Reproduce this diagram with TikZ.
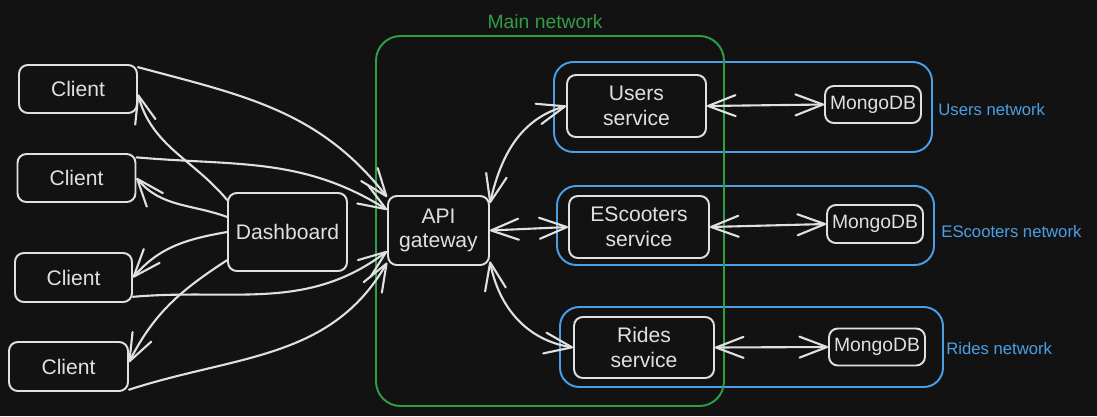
\documentclass[tikz,border=0pt]{standalone}
\usepackage{fontspec}
\setmainfont{Liberation Sans}
\usepackage{xcolor}
\usepackage{tikz}
\usetikzlibrary{arrows.meta}
\definecolor{bg}{HTML}{121212}
\definecolor{ink}{HTML}{E0E0E0}
\definecolor{mainnet}{HTML}{2F9E44}
\definecolor{subnet}{HTML}{4A9FE8}
\tikzstyle{box} = [draw=ink, line width=1.1pt, rounded corners=5pt, text=ink, align=center, inner sep=0pt, font=\fontsize{12}{14}\selectfont]
\tikzstyle{dbbox} = [box, font=\fontsize{11}{13}\selectfont]
\tikzstyle{net} = [draw=subnet, line width=1.1pt, rounded corners=11pt]
\tikzstyle{netlabel} = [text=subnet, anchor=west, inner sep=0pt, font=\fontsize{9.5}{11}\selectfont]
\tikzstyle{arrow} = [ink, line width=1.2pt, line cap=round, -{Straight Barb[length=5.5mm,width=4.2mm,round]}]
\tikzstyle{biarrow} = [ink, line width=1.2pt, line cap=round, {Straight Barb[length=5.5mm,width=4.2mm,round]}-{Straight Barb[length=5.5mm,width=4.2mm,round]}]

\begin{document}
\begin{tikzpicture}[x=0.02cm, y=0.02cm]
    \path[use as bounding box, fill=bg] (0,0) rectangle (1097,-416);

    % Networks
    \draw[net] (554,-62) rectangle (932,-152);
    \draw[net] (557,-186) rectangle (934,-265);
    \draw[net] (560,-307) rectangle (943,-387);
    \draw[draw=mainnet, line width=1.1pt, rounded corners=14pt] (376,-36) rectangle (724,-406);
    \node[text=mainnet, font=\fontsize{11}{13}\selectfont] (main_label) at (545,-22) {Main network};
    \node[netlabel] (users_label) at (938,-110) {Users network};
    \node[netlabel] (scoot_label) at (941,-232) {EScooters network};
    \node[netlabel] (rides_label) at (946,-349) {Rides network};

    % Clients
    \node[box, minimum width=2.36cm, minimum height=0.96cm] (client1) at (78,-89) {Client};
    \node[box, minimum width=2.36cm, minimum height=0.96cm] (client2) at (76.5,-178) {Client};
    \node[box, minimum width=2.34cm, minimum height=0.98cm] (client3) at (73.5,-277.5) {Client};
    \node[box, minimum width=2.38cm, minimum height=0.98cm] (client4) at (68.5,-366.5) {Client};
    \node[box, minimum width=2.38cm, minimum height=1.56cm] (dash) at (287.5,-232) {Dashboard};

    % Gateway and services
    \node[box, minimum width=2.02cm, minimum height=1.38cm] (api) at (438.5,-230.5) {API\\gateway};
    \node[box, minimum width=2.78cm, minimum height=1.24cm] (users) at (636.5,-106) {Users\\service};
    \node[box, minimum width=2.8cm, minimum height=1.24cm] (scoot) at (639,-227) {EScooters\\service};
    \node[box, minimum width=2.8cm, minimum height=1.22cm] (rides) at (644,-347.5) {Rides\\service};

    % Databases
    \node[dbbox, minimum width=1.92cm, minimum height=0.74cm] (db1) at (873,-104.5) {MongoDB};
    \node[dbbox, minimum width=1.92cm, minimum height=0.76cm] (db2) at (875,-224) {MongoDB};
    \node[dbbox, minimum width=1.92cm, minimum height=0.74cm] (db3) at (877,-347) {MongoDB};

    % Arrows
    \draw[arrow] (client1.20) to[out=-15, in=128] (api.147);
    \draw[arrow] (client2.19) to[out=-5, in=148] (api.158);
    \draw[arrow] (client3.-18) to[out=5, in=217] (api.202);
    \draw[arrow] (client4.-21) to[out=18, in=240] (api.212);
    \draw[arrow] (dash.152) to[out=130, in=-75] (client1.-5);
    \draw[arrow] (dash.166) to[out=160, in=-50] (client2.east);
    \draw[arrow] (dash.180) to[out=190, in=49] (client3.east);
    \draw[arrow] (dash.205) to[out=213, in=63] (client4.4);
    \draw[biarrow] (api.28) to[out=77, in=196] (users.west);
    \draw[biarrow] (api.east) -- (scoot.west);
    \draw[biarrow] (api.-31) to[out=-79, in=171] (rides.west);
    \draw[biarrow] (users.east) -- (db1.west);
    \draw[biarrow] (scoot.east) -- (db2.west);
    \draw[biarrow] (rides.east) -- (db3.west);
\end{tikzpicture}
\end{document}
